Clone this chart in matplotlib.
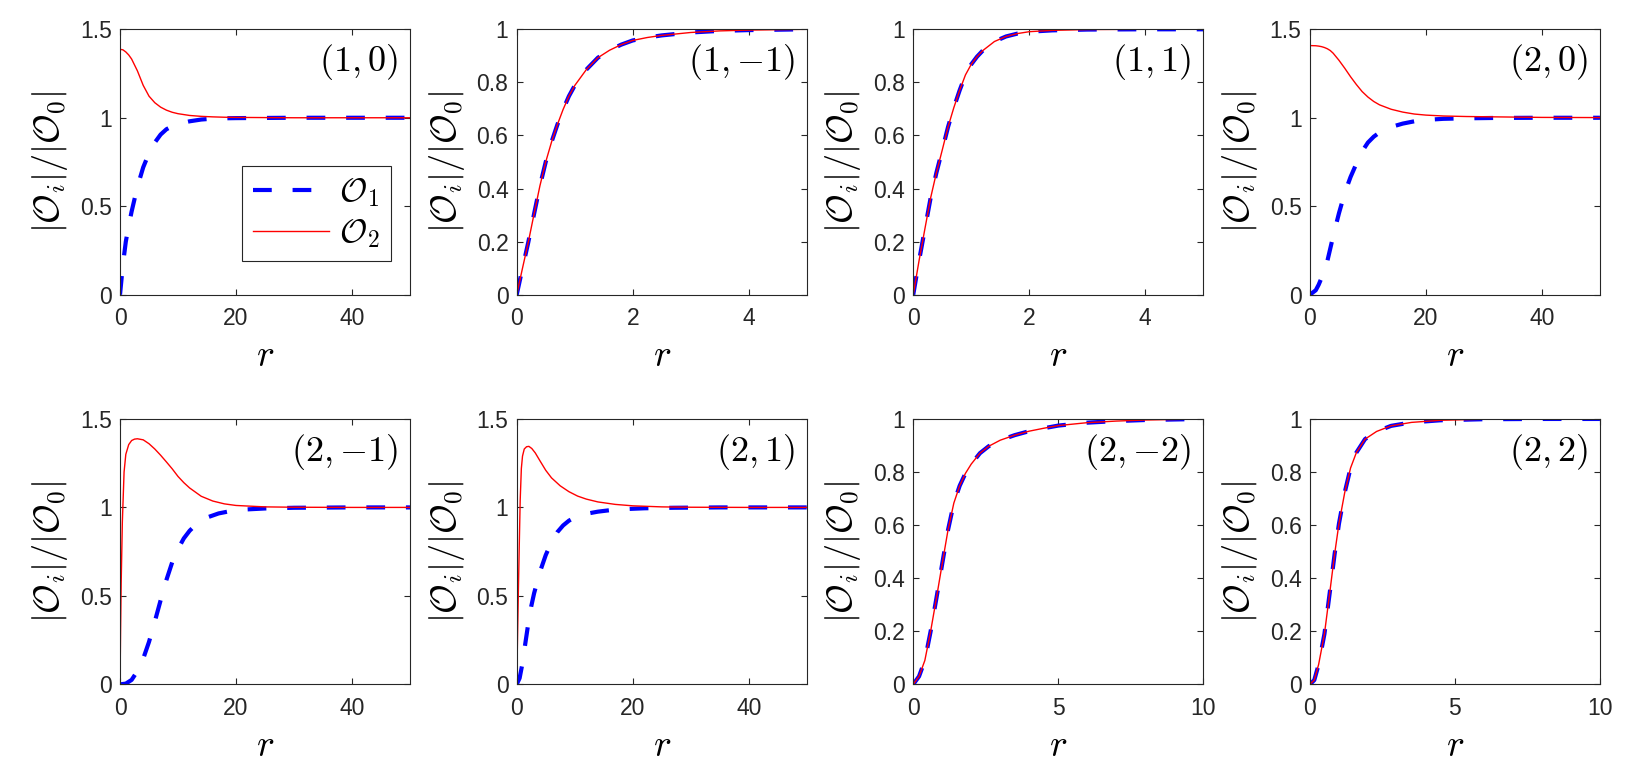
import matplotlib
matplotlib.use("Agg")
import matplotlib.pyplot as plt
from matplotlib.ticker import FuncFormatter

plt.rcParams["mathtext.fontset"] = "cm"
plt.rcParams["font.family"] = ["Liberation Sans", "DejaVu Sans"]

INK = "#262626"
BLUE, RED = "#0000ff", "#ff0000"

# ---- data: r grid, |O1|/|O0| (dashed), |O2|/|O0| (solid)
# (1,0)
R_10 = [0, 0.5, 1, 1.5, 2, 3, 4, 5, 6, 7, 8, 9, 10, 12, 14, 16, 18, 20, 25, 30, 40, 50]
O1_10 = [0, 0.17, 0.30, 0.39, 0.47, 0.61, 0.72, 0.80, 0.86, 0.905, 0.935, 0.952, 0.965,
         0.98, 0.99, 0.995, 0.997, 0.998, 0.999, 1, 1, 1]
O2_10 = [1.387, 1.384, 1.372, 1.355, 1.332, 1.265, 1.183, 1.122, 1.085, 1.06, 1.043, 1.031,
         1.023, 1.013, 1.008, 1.005, 1.003, 1.002, 1.001, 1, 1, 1]
# (1,-1)
R_1m1 = [0, 0.1, 0.2, 0.3, 0.4, 0.5, 0.6, 0.7, 0.8, 0.9, 1.0, 1.2, 1.4, 1.6, 1.8, 2.0,
         2.25, 2.5, 3.0, 3.5, 4.0, 5.0]
O1_1m1 = [0, 0.1, 0.198, 0.305, 0.41, 0.5, 0.575, 0.64, 0.698, 0.748, 0.788, 0.848, 0.893,
          0.921, 0.942, 0.958, 0.969, 0.977, 0.988, 0.994, 0.997, 1.0]
O2_1m1 = [0, 0.1, 0.198, 0.305, 0.41, 0.5, 0.575, 0.64, 0.698, 0.748, 0.788, 0.848, 0.893,
          0.921, 0.942, 0.958, 0.969, 0.977, 0.988, 0.994, 0.997, 1.0]
# (1,1)
R_11 = [0, 0.1, 0.2, 0.3, 0.4, 0.5, 0.6, 0.7, 0.8, 0.9, 1.0, 1.1, 1.2, 1.4, 1.6, 1.8,
        2.0, 2.4, 3, 4, 5]
O1_11 = [0, 0.128, 0.247, 0.365, 0.46, 0.545, 0.632, 0.705, 0.77, 0.828, 0.868, 0.897,
         0.92, 0.954, 0.973, 0.984, 0.991, 0.996, 0.999, 1, 1]
O2_11 = [0, 0.128, 0.247, 0.365, 0.46, 0.545, 0.632, 0.705, 0.77, 0.828, 0.868, 0.897,
         0.92, 0.954, 0.973, 0.984, 0.991, 0.996, 0.999, 1, 1]
# (2,0)
R_20 = [0, 1, 1.5, 2, 2.5, 3, 3.5, 4, 5, 6, 7, 8, 9, 10, 11, 12, 14, 16, 18, 20, 23, 27,
        32, 40, 50]
O1_20 = [0, 0.025, 0.056, 0.095, 0.14, 0.19, 0.26, 0.33, 0.46, 0.575, 0.665, 0.74, 0.81,
         0.86, 0.893, 0.917, 0.948, 0.967, 0.98, 0.988, 0.994, 0.997, 0.999, 1, 1]
O2_20 = [1.408, 1.407, 1.405, 1.402, 1.397, 1.39, 1.38, 1.365, 1.325, 1.28, 1.232, 1.188,
         1.148, 1.117, 1.092, 1.073, 1.048, 1.032, 1.021, 1.015, 1.01, 1.007, 1.005, 1.002,
         1.001]
# (2,-1)
R_2m1_a = [0, 1, 2, 3, 4, 5, 6, 7, 8, 9, 10, 11, 12, 13, 14, 15, 17, 19, 22, 25, 30, 40, 50]
O1_2m1 = [0, 0.004, 0.025, 0.075, 0.145, 0.24, 0.355, 0.475, 0.59, 0.69, 0.765, 0.825,
          0.868, 0.9, 0.925, 0.943, 0.966, 0.979, 0.989, 0.994, 0.998, 1, 1]
R_2m1_b = [0, 0.1, 0.2, 0.4, 0.7, 1, 1.5, 2, 2.5, 3, 4, 5, 6, 7, 8, 9, 10, 11, 12, 14, 16,
           18, 20, 25, 30, 40, 50]
O2_2m1 = [0, 0.31, 0.57, 0.915, 1.2, 1.3, 1.355, 1.378, 1.386, 1.388, 1.382, 1.36, 1.33,
          1.295, 1.257, 1.218, 1.175, 1.14, 1.11, 1.063, 1.036, 1.02, 1.011, 1.003, 1.001,
          1, 1]
# (2,1)
R_21_a = [0, 0.5, 1, 1.5, 2, 2.5, 3, 4, 5, 6, 7, 8, 9, 10, 12, 14, 16, 19, 22, 27, 35, 50]
O1_21 = [0, 0.035, 0.12, 0.235, 0.345, 0.44, 0.515, 0.635, 0.73, 0.805, 0.86, 0.898, 0.925,
         0.943, 0.964, 0.976, 0.984, 0.991, 0.995, 0.998, 1, 1]
R_21_b = [0, 0.15, 0.3, 0.45, 0.6, 0.8, 1, 1.3, 1.7, 2.1, 2.6, 3.2, 4, 5, 6, 7.5, 9, 10.5,
          12, 14, 17, 20, 25, 30, 40, 50]
O2_21 = [0, 0.28, 0.55, 0.8, 1.04, 1.22, 1.29, 1.33, 1.343, 1.345, 1.333, 1.308, 1.264,
         1.21, 1.167, 1.122, 1.089, 1.064, 1.047, 1.031, 1.017, 1.009, 1.003, 1.001, 1, 1]
# (2,-2)
R_2m2 = [0, 0.2, 0.4, 0.6, 0.8, 1.0, 1.2, 1.4, 1.6, 1.8, 2.0, 2.3, 2.6, 3.0, 3.5, 4.0,
         4.5, 5, 6, 7, 8, 10]
O1_2m2 = [0, 0.03, 0.09, 0.2, 0.325, 0.455, 0.582, 0.683, 0.748, 0.795, 0.83, 0.871, 0.897,
          0.92, 0.939, 0.954, 0.965, 0.975, 0.986, 0.992, 0.996, 1.0]
O2_2m2 = [0, 0.03, 0.09, 0.2, 0.325, 0.455, 0.582, 0.683, 0.748, 0.795, 0.83, 0.871, 0.897,
          0.92, 0.939, 0.954, 0.965, 0.975, 0.986, 0.992, 0.996, 1.0]
# (2,2)
R_22 = [0, 0.15, 0.3, 0.5, 0.7, 0.85, 1.0, 1.2, 1.4, 1.6, 1.9, 2.3, 2.8, 3.5, 4.5, 6, 8, 10]
O1_22 = [0, 0.016, 0.075, 0.19, 0.36, 0.49, 0.605, 0.723, 0.815, 0.873, 0.924, 0.953, 0.974,
         0.987, 0.995, 0.999, 1, 1]
O2_22 = [0, 0.016, 0.075, 0.19, 0.36, 0.49, 0.605, 0.723, 0.815, 0.873, 0.924, 0.953, 0.974,
         0.987, 0.995, 0.999, 1, 1]

LABELS = [r"$(1,0)$", r"$(1,{-1})$", r"$(1,1)$", r"$(2,0)$",
          r"$(2,{-1})$", r"$(2,1)$", r"$(2,{-2})$", r"$(2,2)$"]
XMAX = [50, 5, 5, 50, 50, 50, 10, 10]
XTICKS = [[0, 20, 40], [0, 2, 4], [0, 2, 4], [0, 20, 40],
          [0, 20, 40], [0, 20, 40], [0, 5, 10], [0, 5, 10]]
YMAX = [1.5, 1, 1, 1.5, 1.5, 1.5, 1, 1]

PANELS = [
    (R_10, O1_10, R_10, O2_10),
    (R_1m1, O1_1m1, R_1m1, O2_1m1),
    (R_11, O1_11, R_11, O2_11),
    (R_20, O1_20, R_20, O2_20),
    (R_2m1_a, O1_2m1, R_2m1_b, O2_2m1),
    (R_21_a, O1_21, R_21_b, O2_21),
    (R_2m2, O1_2m2, R_2m2, O2_2m2),
    (R_22, O1_22, R_22, O2_22),
]

fig = plt.figure(figsize=(16.44, 7.69), dpi=100)
LEFTS = [0.0730, 0.3143, 0.5555, 0.7968]
BOTTOMS = [0.6168, 0.1101]
W, H = 0.1764, 0.3451
fmt = FuncFormatter(lambda v, _: f"{v:g}")

for k, (rb, ob, rr, orr) in enumerate(PANELS):
    ax = fig.add_axes([LEFTS[k % 4], BOTTOMS[k // 4], W, H])
    l1, = ax.plot(rb, ob, color=BLUE, lw=3, dashes=(4.5, 5.0), dash_capstyle="butt")
    l2, = ax.plot(rr, orr, color=RED, lw=1.0)
    ax.set_xlim(0, XMAX[k]); ax.set_ylim(0, YMAX[k])
    ax.set_xticks(XTICKS[k])
    ax.set_yticks([0, 0.5, 1, 1.5] if YMAX[k] == 1.5 else [0, 0.2, 0.4, 0.6, 0.8, 1])
    ax.xaxis.set_major_formatter(fmt); ax.yaxis.set_major_formatter(fmt)
    ax.tick_params(direction="in", length=4, width=0.8, top=True, right=True,
                   labelsize=16.5, colors=INK)
    ax.tick_params(axis="x", pad=9)
    ax.tick_params(axis="y", pad=6)
    for s in ax.spines.values():
        s.set_color(INK); s.set_linewidth(0.8)
    ax.set_ylabel(r"$|\mathcal{O}_i|/|\mathcal{O}_0|$", fontsize=26, color="black")
    ax.yaxis.set_label_coords(-0.172, 0.5)
    ax.set_xlabel(r"$r$", fontsize=27, color="black")
    ax.xaxis.set_label_coords(0.5, -0.165)
    ax.text(0.958, 0.875, LABELS[k], transform=ax.transAxes, ha="right", va="center",
            fontsize=26)
    if k == 0:
        leg = ax.legend([l1, l2], [r"$\mathcal{O}_1$", r"$\mathcal{O}_2$"],
                        loc="upper right", bbox_to_anchor=(0.933, 0.486), fontsize=24,
                        fancybox=False, edgecolor=INK, framealpha=1, handlelength=2.3,
                        borderpad=0.32, labelspacing=0.26, handletextpad=0.3,
                        borderaxespad=0)
        leg.get_frame().set_linewidth(0.8)

fig.savefig("out.png", dpi=100, facecolor="white")
